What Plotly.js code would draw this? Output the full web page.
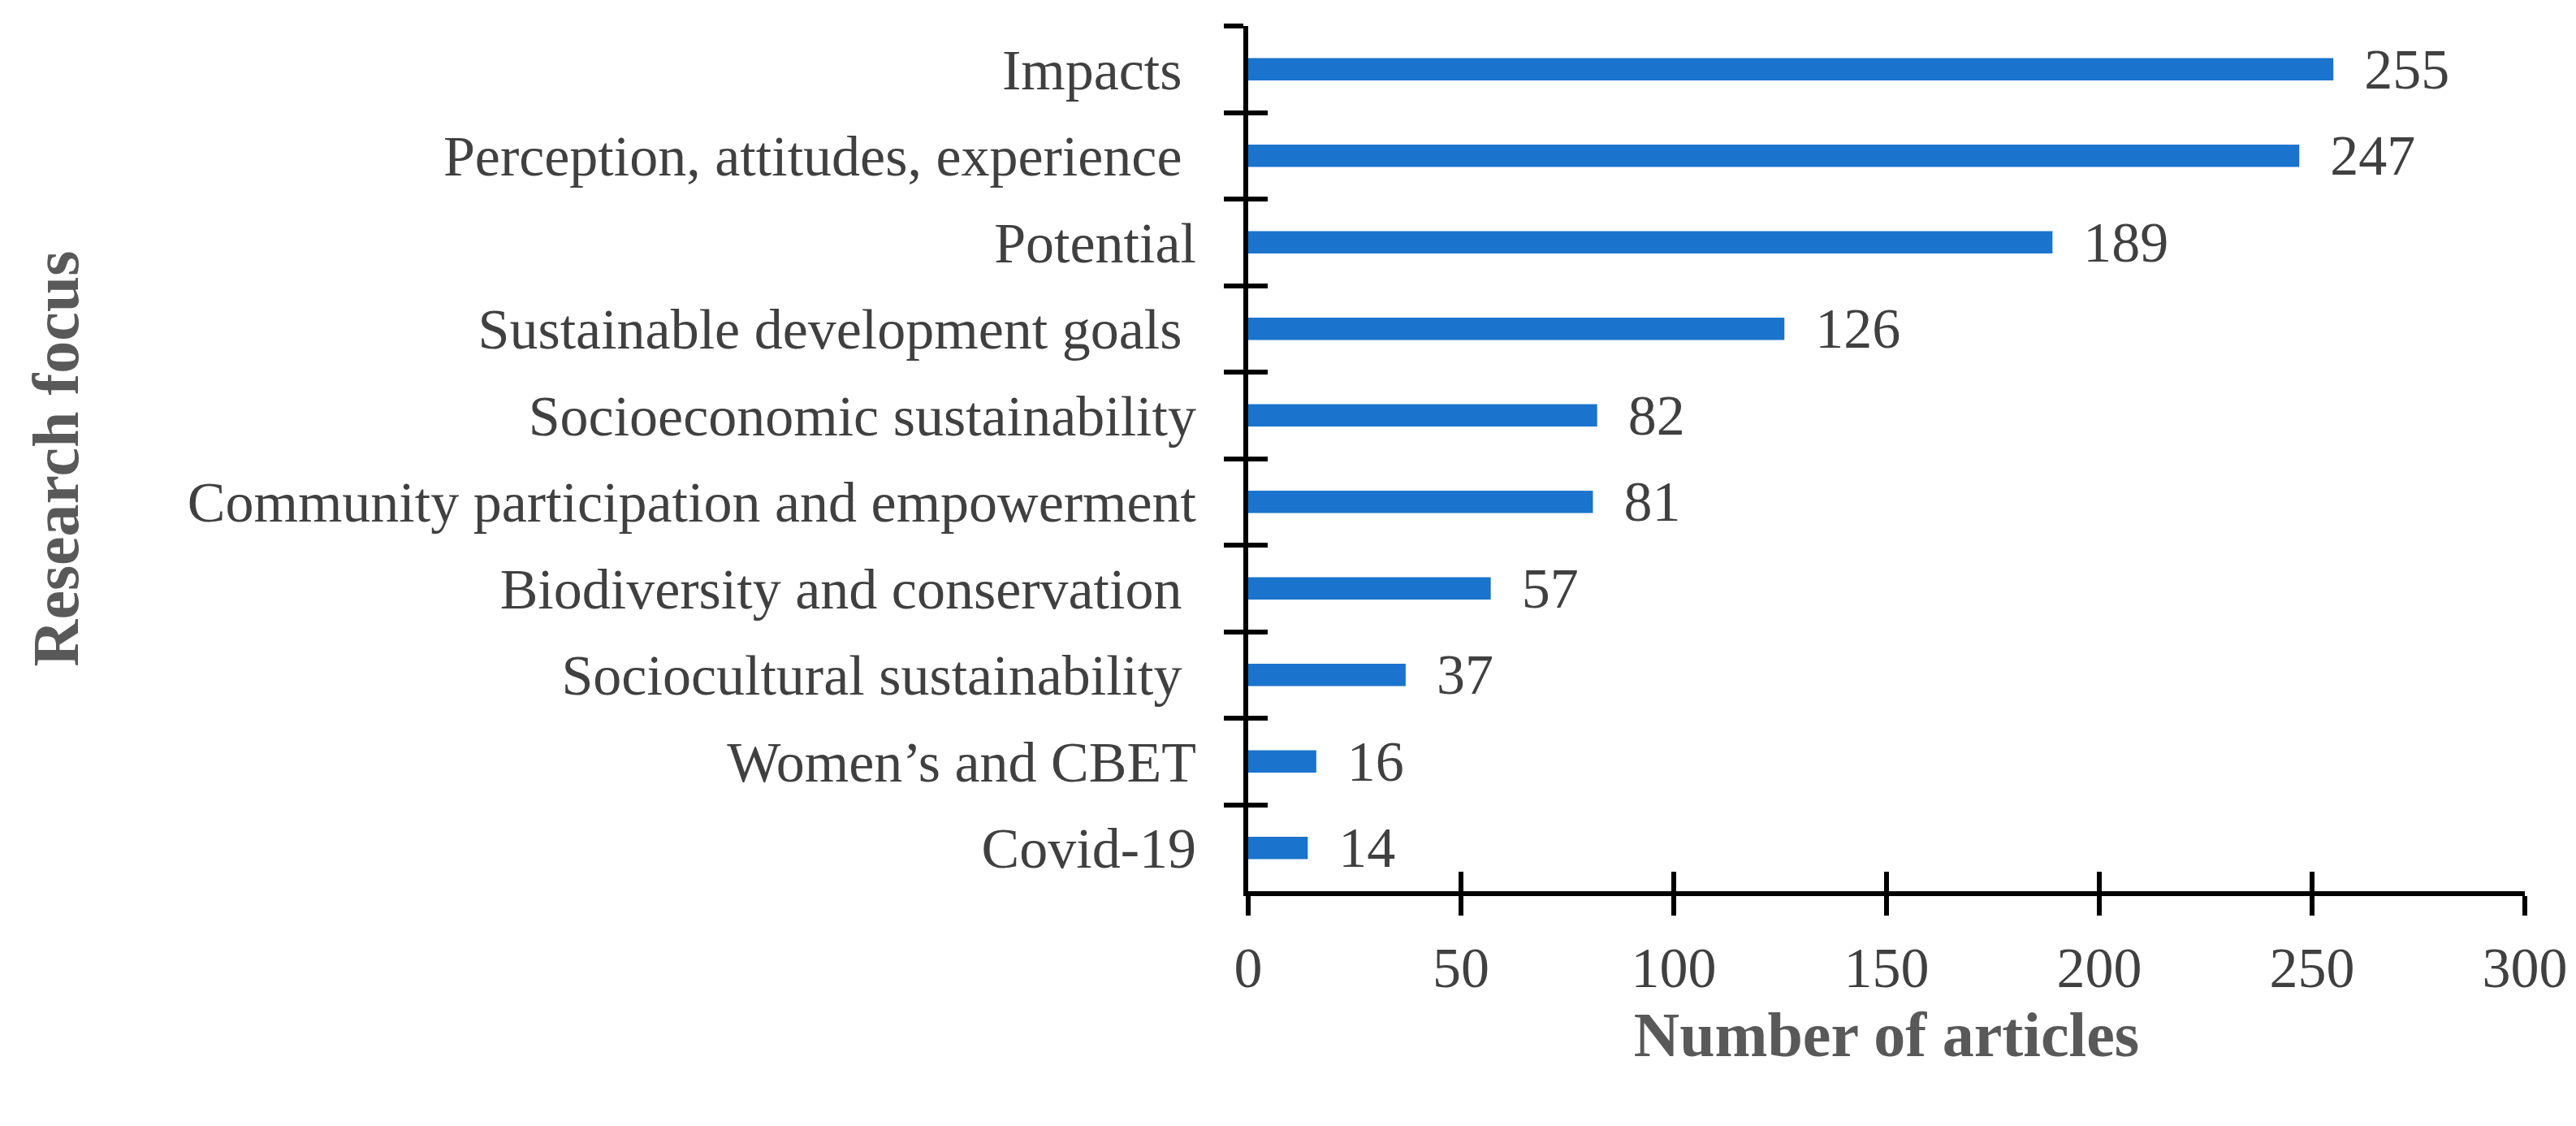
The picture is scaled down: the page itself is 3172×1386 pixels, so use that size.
<!DOCTYPE html>
<html>
<head>
<meta charset="utf-8">
<script src="https://cdn.plot.ly/plotly-3.0.1.min.js"></script>
<style>
  html, body { margin: 0; padding: 0; background: white; }
  #chart { width: 3172px; height: 1386px; }
</style>
</head>
<body>
<div id="chart"></div>
<script>
// Research focus of CBET articles
const focusAreas = [
    'Impacts\u00a0',
    'Perception, attitudes, experience\u00a0',
    'Potential',
    'Sustainable development goals\u00a0',
    'Socioeconomic sustainability',
    'Community participation and empowerment',
    'Biodiversity and conservation\u00a0',
    'Sociocultural sustainability\u00a0',
    'Women\u2019s and CBET',
    'Covid-19'
];
const articleCounts = [255, 247, 189, 126, 82, 81, 57, 37, 16, 14];
const xTickValues = [0, 50, 100, 150, 200, 250, 300];

const barColor = '#1a73cc';
const textColor = '#404040';
const titleColor = '#595959';
const fontFamily = '"Liberation Serif", "Times New Roman", serif';

const bars = {
    type: 'bar',
    orientation: 'h',
    x: articleCounts,
    y: focusAreas,
    marker: { color: barColor },
    width: 0.26,
    texttemplate: '  %{x}',
    textposition: 'outside',
    constraintext: 'none',
    cliponaxis: false,
    textfont: { family: fontFamily, size: 70, color: textColor },
    hoverinfo: 'x+y'
};

// same bars on overlay axes, invisible, to get ticks crossing the axis lines
const ghost = {
    type: 'bar',
    orientation: 'h',
    x: articleCounts,
    y: focusAreas,
    xaxis: 'x2',
    yaxis: 'y2',
    marker: { color: 'rgba(0,0,0,0)' },
    width: 0.26,
    hoverinfo: 'skip',
    showlegend: false
};

const axisCommon = {
    showline: true,
    linecolor: 'black',
    linewidth: 6,
    ticks: 'outside',
    ticklen: 24,
    tickwidth: 6,
    tickcolor: 'black',
    showgrid: false,
    zeroline: false
};

const layout = {
    width: 3172,
    height: 1386,
    margin: { l: 1537, r: 63, t: 32, b: 289 },
    paper_bgcolor: 'white',
    plot_bgcolor: 'white',
    showlegend: false,
    bargap: 0.74,
    font: { family: fontFamily, size: 70, color: textColor },
    xaxis: {
        ...axisCommon,
        range: [0, 300],
        tickvals: xTickValues,
        ticklabelstandoff: 4,
        tickfont: { family: fontFamily, size: 70, color: textColor },
        title: {
            text: 'Number of articles',
            font: { family: fontFamily, size: 78, color: titleColor, weight: 'bold' },
            standoff: 2
        }
    },
    yaxis: {
        ...axisCommon,
        type: 'category',
        autorange: 'reversed',
        tickson: 'boundaries',
        ticklabelstandoff: 44,
        tickfont: { family: fontFamily, size: 70, color: textColor },
        title: {
            text: 'Research focus',
            font: { family: fontFamily, size: 80, color: titleColor, weight: 'bold' },
            standoff: 110
        }
    },
    xaxis2: {
        ...axisCommon,
        overlaying: 'x',
        anchor: 'y2',
        matches: 'x',
        ticks: 'inside',
        showline: false,
        tickvals: xTickValues,
        showticklabels: false
    },
    yaxis2: {
        ...axisCommon,
        overlaying: 'y',
        anchor: 'x2',
        type: 'category',
        autorange: 'reversed',
        tickson: 'boundaries',
        ticks: 'inside',
        showline: false,
        showticklabels: false
    }
};

Plotly.newPlot('chart', [bars, ghost], layout, { displayModeBar: false, staticPlot: true });
</script>
</body>
</html>
